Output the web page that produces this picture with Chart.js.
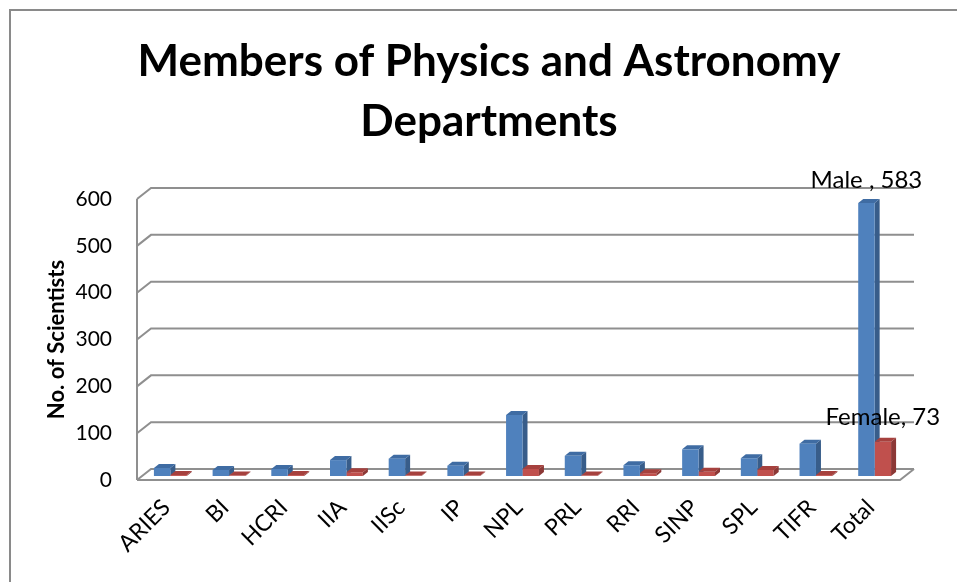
<!DOCTYPE html>
<html>
<head>
<meta charset="utf-8">
<script src="https://cdn.jsdelivr.net/npm/chart.js@4.4.0/dist/chart.umd.min.js"></script>
<style>
  html, body { margin: 0; padding: 0; background: #fff; }
  #wrap { position: absolute; left: 0; top: 0; width: 957px; height: 582px; }
  #frame { position: absolute; left: 9px; top: 9px; width: 960px; height: 600px; border-left: 2px solid #8a8a8a; border-top: 2px solid #8a8a8a; pointer-events: none; }
</style>
</head>
<body>
<div id="wrap"><canvas id="c" width="957" height="582"></canvas><div id="frame"></div></div>
<script>
const categories = ["ARIES", "BI", "HCRI", "IIA", "IISc", "IP", "NPL", "PRL", "RRI", "SINP", "SPL", "TIFR", "Total"];
const maleValues = [17, 13, 15, 34, 37, 22, 130, 43, 23, 57, 38, 69, 583];
const femaleValues = [2, 1, 2, 8, 1, 1, 15, 1, 6, 9, 13, 2, 73];
const seriesNames = ["Male ", "Female"];
const yTicks = [0, 100, 200, 300, 400, 500, 600];
const titleLines = ["Members of Physics and Astronomy", "Departments"];
const yAxisTitle = "No. of Scientists";

const FONT = "Lato, 'Open Sans', sans-serif";
const WALL_DX = 14, WALL_DY = -11;   // back wall offset
const BAR_DX = 5, BAR_DY = -4;       // bar depth
const SHIFT_X = 4, SHIFT_Y = -4;     // bars sit mid-depth
const faceColors = [
  { side: "#385D8A", top: "#3F6CA3" },
  { side: "#8C3836", top: "#A6413E" }
];

function drawFaces(ctx, meta, col) {
  meta.data.forEach(bar => {
    const p = bar.getProps(["x", "y", "base", "width"], true);
    const l = p.x - p.width / 2, r = p.x + p.width / 2;
    const top = Math.min(p.y, p.base), bot = Math.max(p.y, p.base);
    ctx.save();
    ctx.fillStyle = col.side;
    ctx.beginPath();
    ctx.moveTo(r, top);
    ctx.lineTo(r + BAR_DX, top + BAR_DY);
    ctx.lineTo(r + BAR_DX, bot + BAR_DY);
    ctx.lineTo(r, bot);
    ctx.closePath();
    ctx.fill();
    ctx.fillStyle = col.top;
    ctx.beginPath();
    ctx.moveTo(l, top);
    ctx.lineTo(l + BAR_DX, top + BAR_DY);
    ctx.lineTo(r + BAR_DX, top + BAR_DY);
    ctx.lineTo(r, top);
    ctx.closePath();
    ctx.fill();
    ctx.restore();
  });
}

const threeD = {
  id: "threeD",
  beforeDatasetsDraw(chart) {
    const ctx = chart.ctx;
    const y = chart.scales.y;
    const a = chart.chartArea;
    ctx.save();
    ctx.strokeStyle = "#8f8f8f";
    ctx.lineWidth = 2;
    yTicks.forEach(v => {
      const py = y.getPixelForValue(v);
      ctx.beginPath();
      ctx.moveTo(a.left, py);
      ctx.lineTo(a.left + WALL_DX, py + WALL_DY);
      ctx.lineTo(a.right + WALL_DX, py + WALL_DY);
      ctx.stroke();
    });
    ctx.beginPath();
    ctx.moveTo(a.left, y.getPixelForValue(yTicks[yTicks.length - 1]));
    ctx.lineTo(a.left, y.getPixelForValue(0));
    ctx.stroke();
    const p0 = y.getPixelForValue(0);
    ctx.beginPath();
    ctx.moveTo(a.left, p0);
    ctx.lineTo(a.right, p0);
    ctx.lineTo(a.right + WALL_DX, p0 + WALL_DY);
    ctx.stroke();
    ctx.restore();
    ctx.save();
    ctx.translate(SHIFT_X, SHIFT_Y);
    drawFaces(ctx, chart.getDatasetMeta(0), faceColors[0]);
  },
  afterDatasetDraw(chart, args) {
    if (args.index === 1) drawFaces(chart.ctx, args.meta, faceColors[1]);
  },
  afterDatasetsDraw(chart) {
    const ctx = chart.ctx;
    ctx.restore();
    const last = categories.length - 1;
    ctx.save();
    ctx.fillStyle = "#000";
    ctx.font = "24px " + FONT;
    ctx.textAlign = "center";
    ctx.textBaseline = "middle";
    const offs = [-23, -25];
    chart.data.datasets.forEach((ds, i) => {
      const bar = chart.getDatasetMeta(i).data[last];
      const txt = seriesNames[i] + ", " + ds.data[last];
      ctx.fillText(txt, bar.x + SHIFT_X, bar.y + SHIFT_Y + offs[i]);
    });
    ctx.restore();
  }
};

new Chart(document.getElementById("c"), {
  type: "bar",
  data: {
    labels: categories,
    datasets: [
      { label: seriesNames[0], data: maleValues, backgroundColor: "#4F81BD" },
      { label: seriesNames[1], data: femaleValues, backgroundColor: "#C0504D" }
    ]
  },
  options: {
    responsive: false,
    animation: false,
    layout: { padding: { left: 21, right: 0, top: 0, bottom: 0 } },
    datasets: { bar: { categoryPercentage: 0.56, barPercentage: 1.0 } },
    plugins: {
      legend: { display: false },
      tooltip: { enabled: false },
      title: {
        display: true,
        text: titleLines,
        color: "#000",
        font: { family: FONT, size: 44, weight: "bold", lineHeight: 1.364 },
        padding: { top: 32, bottom: 47 }
      }
    },
    scales: {
      x: {
        grid: { display: false },
        border: { display: false },
        ticks: { color: "#000", font: { family: FONT, size: 23 }, minRotation: 45, maxRotation: 45, padding: 6 },
        afterFit(s) { s.height = 102; }
      },
      y: {
        min: 0, max: 600,
        afterBuildTicks(s) { s.ticks = yTicks.map(v => ({ value: v })); },
        grid: { display: false, drawTicks: false },
        border: { display: false },
        ticks: { color: "#000", font: { family: FONT, size: 21 }, padding: 25 },
        title: { display: true, text: yAxisTitle, color: "#000", font: { family: FONT, size: 22, weight: "bold", lineHeight: 1.2 }, padding: { top: 23, bottom: 0 } },
        afterFit(s) { s.width = 116; }
      },
      yRight: {
        position: "right",
        display: true,
        grid: { display: false, drawTicks: false },
        border: { display: false },
        ticks: { display: false },
        afterFit(s) { s.width = 57; }
      }
    }
  },
  plugins: [threeD]
});
</script>
</body>
</html>
